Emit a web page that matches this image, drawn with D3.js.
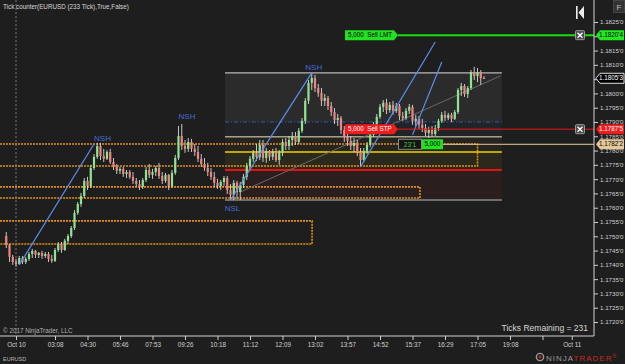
<!DOCTYPE html>
<meta charset="utf-8">
<style>
    body { margin: 0; background: #1e1e1e; }
    svg { display: block; font-family: Arial, "Liberation Sans", sans-serif; }
</style>
<svg></svg>
<script src="https://cdn.jsdelivr.net/npm/d3@7"></script>
<script>

    var width = 625,
        height = 364,
        plotRight = 594,
        plotBottom = 336;

    // EURUSD 233 tick bars (bar index 0..147)
    var opens = [1.17501,1.17470,1.17428,1.17410,1.17403,1.17424,1.17410,1.17421,1.17438,1.17449,
        1.17435,1.17442,1.17431,1.17438,1.17421,1.17414,1.17452,1.17473,1.17452,1.17484,
        1.17501,1.17529,1.17582,1.17613,1.17641,1.17694,1.17676,1.17739,1.17778,1.17816,
        1.17781,1.17771,1.17795,1.17760,1.17743,1.17729,1.17736,1.17718,1.17725,1.17708,
        1.17694,1.17683,1.17673,1.17697,1.17732,1.17715,1.17725,1.17739,1.17711,1.17694,
        1.17715,1.17676,1.17722,1.17774,1.17851,1.17816,1.17806,1.17830,1.17806,1.17795,
        1.17771,1.17753,1.17739,1.17725,1.17708,1.17687,1.17676,1.17690,1.17704,1.17662,
        1.17645,1.17687,1.17655,1.17680,1.17708,1.17746,1.17771,1.17792,1.17778,1.17820,
        1.17774,1.17799,1.17778,1.17795,1.17767,1.17792,1.17830,1.17816,1.17837,1.17851,
        1.17830,1.17869,1.17904,1.17974,1.18037,1.18054,1.18019,1.18002,1.17974,1.17984,
        1.17956,1.17935,1.17907,1.17914,1.17872,1.17848,1.17834,1.17816,1.17827,1.17795,
        1.17767,1.17799,1.17820,1.17855,1.17890,1.17918,1.17953,1.17967,1.17942,1.17960,
        1.17939,1.17956,1.17921,1.17914,1.17939,1.17953,1.17904,1.17911,1.17890,1.17879,
        1.17862,1.17872,1.17858,1.17879,1.17904,1.17925,1.17914,1.17925,1.17911,1.17935,
        1.18012,1.18026,1.17998,1.18019,1.18075,1.18061,1.18075,1.18054];

    var highs = [1.17515,1.17473,1.17435,1.17421,1.17431,1.17431,1.17428,1.17445,1.17456,1.17452,
        1.17445,1.17449,1.17445,1.17445,1.17435,1.17459,1.17480,1.17480,1.17491,1.17508,
        1.17536,1.17592,1.17620,1.17652,1.17704,1.17708,1.17750,1.17788,1.17827,1.17827,
        1.17806,1.17802,1.17806,1.17774,1.17753,1.17743,1.17743,1.17732,1.17732,1.17725,
        1.17704,1.17697,1.17704,1.17743,1.17753,1.17736,1.17746,1.17757,1.17725,1.17722,
        1.17718,1.17732,1.17785,1.17886,1.17893,1.17837,1.17844,1.17841,1.17823,1.17816,
        1.17788,1.17774,1.17757,1.17739,1.17725,1.17701,1.17697,1.17711,1.17711,1.17683,
        1.17697,1.17694,1.17690,1.17718,1.17757,1.17781,1.17802,1.17823,1.17837,1.17837,
        1.17809,1.17802,1.17806,1.17809,1.17802,1.17841,1.17844,1.17851,1.17865,1.17865,
        1.17879,1.17914,1.17984,1.18047,1.18072,1.18065,1.18033,1.18019,1.17998,1.17991,
        1.17970,1.17949,1.17928,1.17921,1.17886,1.17872,1.17851,1.17844,1.17837,1.17809,
        1.17809,1.17830,1.17865,1.17900,1.17928,1.17963,1.17977,1.17981,1.17970,1.17974,
        1.17967,1.17963,1.17935,1.17949,1.17963,1.17960,1.17925,1.17921,1.17911,1.17893,
        1.17883,1.17886,1.17890,1.17911,1.17935,1.17939,1.17932,1.17932,1.17942,1.18019,
        1.18037,1.18033,1.18026,1.18082,1.18093,1.18089,1.18082,1.18061];

    var lows = [1.17459,1.17410,1.17400,1.17393,1.17400,1.17403,1.17403,1.17414,1.17424,1.17424,
        1.17424,1.17421,1.17424,1.17410,1.17407,1.17410,1.17445,1.17442,1.17449,1.17473,
        1.17494,1.17522,1.17575,1.17603,1.17634,1.17662,1.17669,1.17732,1.17771,1.17767,
        1.17760,1.17767,1.17753,1.17732,1.17718,1.17718,1.17708,1.17704,1.17701,1.17683,
        1.17673,1.17662,1.17666,1.17690,1.17704,1.17701,1.17711,1.17701,1.17683,1.17687,
        1.17662,1.17669,1.17715,1.17767,1.17802,1.17792,1.17795,1.17795,1.17781,1.17760,
        1.17743,1.17729,1.17711,1.17697,1.17673,1.17666,1.17662,1.17676,1.17648,1.17627,
        1.17627,1.17631,1.17627,1.17669,1.17697,1.17732,1.17760,1.17764,1.17767,1.17760,
        1.17757,1.17764,1.17767,1.17760,1.17750,1.17781,1.17802,1.17802,1.17816,1.17820,
        1.17823,1.17862,1.17893,1.17963,1.18012,1.18005,1.17988,1.17956,1.17956,1.17942,
        1.17921,1.17893,1.17886,1.17858,1.17830,1.17816,1.17802,1.17795,1.17781,1.17746,
        1.17760,1.17788,1.17813,1.17848,1.17883,1.17911,1.17935,1.17928,1.17932,1.17925,
        1.17932,1.17907,1.17904,1.17907,1.17928,1.17890,1.17886,1.17876,1.17865,1.17851,
        1.17844,1.17848,1.17851,1.17869,1.17897,1.17904,1.17907,1.17900,1.17907,1.17928,
        1.17991,1.17988,1.17984,1.18012,1.18047,1.18040,1.18030,1.18051];

    var closes = [1.17470,1.17428,1.17410,1.17403,1.17424,1.17410,1.17421,1.17438,1.17449,1.17435,
        1.17442,1.17431,1.17438,1.17421,1.17414,1.17452,1.17473,1.17452,1.17484,1.17501,
        1.17529,1.17582,1.17613,1.17641,1.17694,1.17676,1.17739,1.17778,1.17816,1.17781,
        1.17771,1.17795,1.17760,1.17743,1.17729,1.17736,1.17718,1.17725,1.17708,1.17694,
        1.17683,1.17673,1.17697,1.17732,1.17715,1.17725,1.17739,1.17711,1.17694,1.17715,
        1.17676,1.17722,1.17774,1.17851,1.17816,1.17806,1.17830,1.17806,1.17795,1.17771,
        1.17753,1.17739,1.17725,1.17708,1.17687,1.17676,1.17690,1.17704,1.17662,1.17645,
        1.17687,1.17655,1.17680,1.17708,1.17746,1.17771,1.17792,1.17778,1.17820,1.17774,
        1.17799,1.17778,1.17795,1.17767,1.17792,1.17830,1.17816,1.17837,1.17851,1.17830,
        1.17869,1.17904,1.17974,1.18037,1.18054,1.18019,1.18002,1.17974,1.17984,1.17956,
        1.17935,1.17907,1.17914,1.17872,1.17848,1.17834,1.17816,1.17827,1.17795,1.17767,
        1.17799,1.17820,1.17855,1.17890,1.17918,1.17953,1.17967,1.17942,1.17960,1.17939,
        1.17956,1.17921,1.17914,1.17939,1.17953,1.17904,1.17911,1.17890,1.17879,1.17862,
        1.17872,1.17858,1.17879,1.17904,1.17925,1.17914,1.17925,1.17911,1.17935,1.18012,
        1.18026,1.17998,1.18019,1.18075,1.18061,1.18075,1.18054,1.18053];

    var xTickBars = [3, 15, 25, 35, 45, 55, 65, 75, 85, 95, 105, 115, 125, 135, 145, 155, 165, 174];
    var xLabels = ["Oct 10", "03:08", "04:30", "05:46", "07:53", "09:26", "10:18", "11:12", "12:09",
        "13:02", "13:57", "14:52", "15:37", "16:29", "17:05", "19:08", "", "Oct 11"];
    var yTicks = d3.range(22).map(function(k) { return 1.1720 + k * 0.0005; });

    // supply / demand zones (orange dotted): top, bottom, last bar
    var zoneTop = [1.17823, 1.17673, 1.17554];
    var zoneBottom = [1.17746, 1.17634, 1.17473];
    var zoneEnd = [145, 127.3, 94.1];

    // swing box levels from NSH high down to NSL low
    var boxLevels = [1.18072, 1.17900, 1.17848, 1.17795, 1.17732, 1.17627];
    var boxStart = 67.3, boxEnd = 152.5;

    // trend lines [bar, price, bar, price]
    var trendLines = [
        [4, 1.17400, 27, 1.17823],
        [69, 1.17627, 94, 1.18072],
        [109, 1.17743, 132, 1.18180],
        [125, 1.17855, 134, 1.18110]
    ];
    var regLine = [72, 1.17655, 152, 1.18061];

    var swingLabels = [
        {bar: 29, price: 1.17845, text: "NSH"},
        {bar: 55, price: 1.17920, text: "NSH"},
        {bar: 94, price: 1.18092, text: "NSH"},
        {bar: 69, price: 1.17597, text: "NSL"}
    ];

    var sellLimit = 1.18204, sellStop = 1.17875, avgPrice = 1.17822, lastPrice = 1.18053;

    var x = d3.scaleLinear().domain([0, 174]).range([6.25, 571.75]);
    var y = d3.scaleLinear().domain([1.1720, 1.1825]).range([322, 22]);

    var svg = d3.select("svg")
        .attr("width", width)
        .attr("height", height);

    svg.append("rect").attr("width", width).attr("height", height).attr("fill", "#1e1e1e");

    // box fills
    var boxFills = ["#2b2b2b", "#222326", "#252420", "#2b291b", "#2a1e1e"];
    boxFills.forEach(function(c, k) {
        svg.append("rect")
            .attr("x", x(boxStart)).attr("width", x(boxEnd) - x(boxStart))
            .attr("y", y(boxLevels[k])).attr("height", y(boxLevels[k + 1]) - y(boxLevels[k]))
            .attr("fill", c);
    });

    // zones
    zoneTop.forEach(function(t, k) {
        var x0 = 0, x1 = x(zoneEnd[k]), y0 = y(t), y1 = y(zoneBottom[k]);
        svg.append("path")
            .attr("d", "M" + x0 + "," + y0 + "H" + x1 + "V" + y1 + "H" + x0)
            .attr("fill", "none")
            .attr("stroke", "#e0900c")
            .attr("stroke-width", 1.6)
            .attr("stroke-dasharray", "2,1");
    });

    // session break
    svg.append("line")
        .attr("x1", x(3)).attr("x2", x(3)).attr("y1", 0).attr("y2", plotBottom)
        .attr("stroke", "#777").attr("stroke-dasharray", "2,2");

    // box lines
    var boxStyles = [
        {c: "#b8b8b8", w: 1.2, d: null},
        {c: "#3657a8", w: 1, d: "4,2,1,2"},
        {c: "#ece4bc", w: 1, d: null},
        {c: "#f2d000", w: 1.6, d: null},
        {c: "#e81010", w: 1.8, d: null},
        {c: "#8a8a8a", w: 1.6, d: null}
    ];
    boxLevels.forEach(function(p, k) {
        svg.append("line")
            .attr("x1", x(boxStart)).attr("x2", x(boxEnd))
            .attr("y1", y(p)).attr("y2", y(p))
            .attr("stroke", boxStyles[k].c)
            .attr("stroke-width", boxStyles[k].w)
            .attr("stroke-dasharray", boxStyles[k].d);
    });

    svg.append("line")
        .attr("x1", x(regLine[0])).attr("y1", y(regLine[1]))
        .attr("x2", x(regLine[2])).attr("y2", y(regLine[3]))
        .attr("stroke", "#6a6a6a").attr("stroke-width", 1);

    // candles
    var bars = svg.append("g").selectAll("g")
        .data(d3.range(opens.length))
        .enter().append("g");

    bars.append("line")
        .attr("x1", function(i) { return x(i); })
        .attr("x2", function(i) { return x(i); })
        .attr("y1", function(i) { return y(highs[i]); })
        .attr("y2", function(i) { return y(lows[i]); })
        .attr("stroke", "#d8d8d8")
        .attr("stroke-width", 0.9);

    bars.append("rect")
        .attr("x", function(i) { return x(i) - 1.1; })
        .attr("width", 2.2)
        .attr("y", function(i) { return y(Math.max(opens[i], closes[i])); })
        .attr("height", function(i) { return Math.max(1, Math.abs(y(opens[i]) - y(closes[i]))); })
        .attr("fill", function(i) { return closes[i] >= opens[i] ? "#8fe58f" : "#f08484"; });

    // trend lines
    trendLines.forEach(function(t) {
        svg.append("line")
            .attr("x1", x(t[0])).attr("y1", y(t[1]))
            .attr("x2", x(t[2])).attr("y2", y(t[3]))
            .attr("stroke", "#5b8ef0").attr("stroke-width", 1.2);
    });

    svg.selectAll(".swing")
        .data(swingLabels)
        .enter().append("text")
        .attr("x", function(d) { return x(d.bar) + 2; })
        .attr("y", function(d) { return y(d.price); })
        .attr("text-anchor", "middle")
        .attr("dy", "0.35em")
        .attr("fill", "#4a6ad8")
        .style("font-size", "8px")
        .text(function(d) { return d.text; });

    // chart trader lines
    var xOrd = 345, xOrdEnd = 398, xBtn = 580;
    svg.append("line")
        .attr("x1", xOrdEnd).attr("x2", plotRight).attr("y1", y(sellLimit)).attr("y2", y(sellLimit))
        .attr("stroke", "#14e014").attr("stroke-width", 2);
    svg.append("line")
        .attr("x1", xOrdEnd).attr("x2", plotRight).attr("y1", y(sellStop)).attr("y2", y(sellStop))
        .attr("stroke", "#e81818").attr("stroke-width", 1);
    svg.append("line")
        .attr("x1", 443).attr("x2", plotRight).attr("y1", y(avgPrice)).attr("y2", y(avgPrice))
        .attr("stroke", "#e8cc98").attr("stroke-width", 1);

    function orderTag(price, fill, textFill, label) {
        var yc = y(price);
        svg.append("path")
            .attr("d", "M" + xOrd + "," + (yc - 5) + "H" + (xOrdEnd - 4) + "L" + xOrdEnd + "," + yc +
                "L" + (xOrdEnd - 4) + "," + (yc + 5) + "H" + xOrd + "Z")
            .attr("fill", fill);
        svg.append("text")
            .attr("x", xOrd + 3).attr("y", yc).attr("dy", "0.35em")
            .attr("fill", textFill).style("font-size", "6.3px")
            .attr("xml:space", "preserve")
            .text(label);
        var b = svg.append("g").attr("transform", "translate(" + xBtn + "," + yc + ")");
        b.append("rect").attr("x", -4.5).attr("y", -4.5).attr("width", 9).attr("height", 9)
            .attr("rx", 1).attr("fill", "#4a4a4a").attr("stroke", "#9a9a9a");
        b.append("path").attr("d", "M-2.5,-2.5L2.5,2.5M2.5,-2.5L-2.5,2.5")
            .attr("stroke", "#fff").attr("stroke-width", 1.4);
    }
    orderTag(sellLimit, "#22e022", "#000", "5,000  Sell LMT");
    orderTag(sellStop, "#f01c1c", "#fff", "5,000  Sell STP");

    var ya = y(avgPrice);
    svg.append("rect").attr("x", 398.5).attr("y", ya - 5).attr("width", 23).attr("height", 10)
        .attr("fill", "#141414").attr("stroke", "#8a8a8a");
    svg.append("text").attr("x", 410).attr("y", ya).attr("dy", "0.35em").attr("text-anchor", "middle")
        .attr("fill", "#3fd03f").style("font-size", "6.5px").text("23\u20191");
    svg.append("rect").attr("x", 422).attr("y", ya - 5).attr("width", 21).attr("height", 10)
        .attr("fill", "#22e022");
    svg.append("text").attr("x", 432.5).attr("y", ya).attr("dy", "0.35em").attr("text-anchor", "middle")
        .attr("fill", "#000").style("font-size", "6.3px").text("5,000");

    // axes
    svg.append("g")
        .attr("transform", "translate(" + plotRight + ",0)")
        .call(d3.axisRight(y).tickValues(yTicks).tickSize(4).tickPadding(2)
            .tickFormat(function(d) { return d.toFixed(4) + "'0"; }))
        .call(function(g) { g.select(".domain").remove(); })
        .call(function(g) { g.selectAll("line").attr("stroke", "#cfcfcf"); })
        .call(function(g) { g.selectAll("text").attr("fill", "#d0d0d0").style("font-size", "6.2px"); });

    svg.append("g")
        .attr("transform", "translate(0," + plotBottom + ")")
        .call(d3.axisBottom(x).tickValues(xTickBars).tickSize(4).tickPadding(3)
            .tickFormat(function(d, k) { return xLabels[k]; }))
        .call(function(g) { g.select(".domain").remove(); })
        .call(function(g) { g.selectAll("line").attr("stroke", "#cfcfcf"); })
        .call(function(g) { g.selectAll("text").attr("fill", "#d0d0d0").style("font-size", "6.3px"); });

    svg.append("path")
        .attr("d", "M0," + plotBottom + "H" + plotRight + "V0")
        .attr("fill", "none").attr("stroke", "#d0d0d0").attr("stroke-width", 1);

    // axis price markers
    function priceTag(price, fill, stroke, textFill, label) {
        var yc = y(price);
        svg.append("path")
            .attr("d", "M596," + yc + "L600," + (yc - 5) + "H624V" + (yc + 5) + "H600Z")
            .attr("fill", fill).attr("stroke", stroke);
        svg.append("text").attr("x", 611).attr("y", yc).attr("dy", "0.35em")
            .attr("text-anchor", "middle").attr("fill", textFill).style("font-size", "6.3px").text(label);
    }
    function fmt(p) { var s = p.toFixed(5); return s.slice(0, 6) + "'" + s.slice(6); }
    priceTag(sellLimit, "#22e822", "none", "#000", fmt(sellLimit));
    priceTag(lastPrice, "#000", "#e0e0e0", "#fff", fmt(lastPrice));
    priceTag(sellStop, "#f01c1c", "none", "#fff", fmt(sellStop));
    priceTag(avgPrice, "#e6c99a", "none", "#000", fmt(avgPrice));

    // texts
    svg.append("text").attr("x", 3).attr("y", 9).attr("fill", "#d8d8d8").style("font-size", "6.3px")
        .text("Tick counter(EURUSD (233 Tick),True,False)");
    svg.append("text").attr("x", 3).attr("y", 333).attr("fill", "#b0b0b0").style("font-size", "6.3px")
        .text("\u00a9 2017 NinjaTrader, LLC");
    svg.append("text").attr("x", 588).attr("y", 331).attr("text-anchor", "end")
        .attr("fill", "#d8d8d8").style("font-size", "8.5px").text("Ticks Remaining = 231");
    svg.append("text").attr("x", 3).attr("y", 361).attr("fill", "#b8b8b8").style("font-size", "5.5px")
        .text("EURUSD");

    // toolbar glyphs
    svg.append("rect").attr("x", 576).attr("y", 6).attr("width", 1.6).attr("height", 13).attr("fill", "#eee");
    svg.append("path").attr("d", "M584,6V19L578.5,12.5Z").attr("fill", "#eee");
    svg.append("rect").attr("x", 613.5).attr("y", 0.5).attr("width", 11).attr("height", 12)
        .attr("fill", "#333").attr("stroke", "#444");
    svg.append("text").attr("x", 619).attr("y", 10).attr("text-anchor", "middle")
        .attr("fill", "#bbb").style("font-size", "8px").text("F");

    // logo
    svg.append("circle").attr("cx", 540).attr("cy", 357).attr("r", 3.6)
        .attr("fill", "none").attr("stroke", "#999").attr("stroke-width", 1.4);
    svg.append("circle").attr("cx", 540).attr("cy", 357).attr("r", 1.4).attr("fill", "#c62828");
    var logo = svg.append("text").attr("x", 546).attr("y", 360.5).style("font-size", "8px")
        .style("letter-spacing", "1px");
    logo.append("tspan").attr("fill", "#9a9a9a").text("NINJA");
    logo.append("tspan").attr("fill", "#c62828").text("TRADER");
    logo.append("tspan").attr("fill", "#c62828").style("font-size", "5px").attr("dy", "-3").text("\u00ae");

</script>
